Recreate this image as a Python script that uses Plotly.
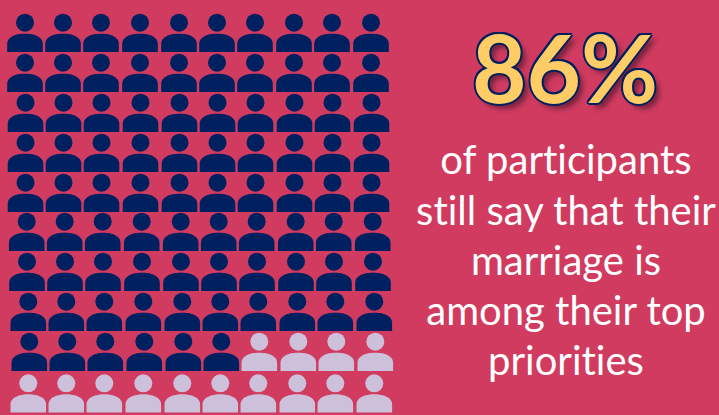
import numpy as np
import plotly.graph_objects as go

SHARE_TEXT = "86%"
CAPTION_LINES = ["of participants", "still say that their", "marriage is", "among their top", "priorities"]
CAPTION_Y = [164, 214.5, 264.5, 314.5, 365]
TOTAL_PEOPLE = 100
HIGHLIGHTED = 86

# Left-hand head position and height of each row of people
ROW_X0 = [25, 25, 25.5, 25.5, 25.5, 26.7, 27, 28.3, 29.3, 28.3]
ROW_Y = [22.7, 62.7, 102.7, 142.7, 182.7, 221.7, 261.7, 301.7, 341.7, 383.3]
COL_STEP = [0, 38, 76, 115, 154, 192, 230, 269, 307, 346]

NAVY = "#002060"
LILAC = "#CCC0DA"
BACKGROUND = "#D13B60"
GOLD = "#FFCC66"

# Keep "ti" as two separate letters in the caption
NO_LIGATURES = ("var s=document.createElement('style');"
                "s.textContent='text{font-variant-ligatures:none!important;"
                "font-feature-settings:\"liga\" 0,\"clig\" 0!important}';"
                "document.head.appendChild(s);")


def body_outline(cx, head_y):
    # Flat-bottomed dome sitting under a head
    bottom = head_y + 29.2
    t = np.linspace(np.pi, 0, 40)
    xs = cx + 17.8 * np.sign(np.cos(t)) * np.abs(np.cos(t)) ** 0.92
    ys = bottom - 8 - 10.2 * np.sin(t) ** 0.92
    return [cx - 17.8, *xs, cx + 17.8, cx - 17.8, None], [bottom, *ys, bottom, bottom, None]


people = [(x0 + step, y) for x0, y in zip(ROW_X0, ROW_Y) for step in COL_STEP][:TOTAL_PEOPLE]
groups = [(people[:HIGHLIGHTED], NAVY), (people[HIGHLIGHTED:], LILAC)]

fig = go.Figure()
for members, color in groups:
    bx, by = [], []
    for cx, cy in members:
        ox, oy = body_outline(cx, cy)
        bx += ox
        by += oy
    fig.add_trace(go.Scatter(x=bx, y=by, mode="lines", fill="toself", fillcolor=color,
                             line=dict(width=0, color=color, simplify=False), hoverinfo="skip"))
    fig.add_trace(go.Scatter(x=[p[0] for p in members], y=[p[1] for p in members], mode="markers",
                             marker=dict(symbol="circle", size=18, color=color, line=dict(width=0)),
                             hoverinfo="skip"))

outline = ", ".join(f"{dx}px {dy}px 0 {NAVY}" for dx, dy in
                    [(-2, 0), (2, 0), (0, -2), (0, 2), (-1.5, -1.5), (1.5, -1.5), (-1.5, 1.5), (1.5, 1.5)])
fig.add_trace(go.Scatter(x=[565], y=[79], mode="text", text=[SHARE_TEXT],
                         textfont=dict(family="Lato", size=94, color=GOLD, weight="bold",
                                       shadow=outline + ", 5px 5px 5px rgba(60,20,40,0.6)"),
                         hoverinfo="skip"))
fig.add_trace(go.Scatter(x=[566] * len(CAPTION_LINES), y=CAPTION_Y, mode="text", text=CAPTION_LINES,
                         textfont=dict(family="Lato", size=40, color="white"), hoverinfo="skip"))

fig.update_layout(
    width=719, height=415, autosize=False, showlegend=False,
    margin=dict(l=0, r=0, t=0, b=0),
    paper_bgcolor=BACKGROUND, plot_bgcolor=BACKGROUND,
    xaxis=dict(range=[0, 719], visible=False, fixedrange=True),
    yaxis=dict(range=[415, 0], visible=False, fixedrange=True),
)
fig.write_html("out.html", config=dict(displayModeBar=False), post_script=NO_LIGATURES)
